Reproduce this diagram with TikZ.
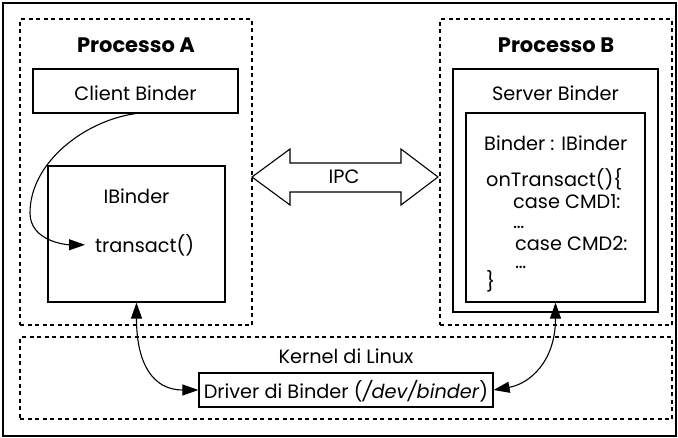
\documentclass[tikz,border=0pt]{standalone}
\usepackage{fontspec}
\setmainfont{Poppins}
\usetikzlibrary{arrows.meta,calc}

\begin{document}
\begin{tikzpicture}[x=1pt,y=-1pt,
  font=\fontsize{19.3}{22}\selectfont,
  solidbox/.style={draw, line width=1.2pt, inner sep=0pt},
  dashbox/.style={draw, line width=1.2pt, inner sep=0pt, dash pattern=on 4pt off 3.5pt},
  lbl/.style={anchor=base, inner sep=0pt},
  codeline/.style={anchor=base west, inner sep=0pt},
  tip/.style={line width=1.1pt, -{Triangle[length=16pt,width=11pt]}},
  twotip/.style={line width=1.1pt, {Triangle[length=16pt,width=11pt]}-{Triangle[length=16pt,width=11pt]}},
  title/.style={anchor=base, inner sep=0pt, font=\fontsize{21}{24}\selectfont\bfseries}]

\useasboundingbox (0,0) rectangle (678,437);

% outer frame
\draw[line width=1.3pt] (3,3) rectangle (676,436);

% process and kernel areas
\node[dashbox, minimum width=232, minimum height=306] (procA) at (136,172) {};
\node[dashbox, minimum width=232, minimum height=306] (procB) at (556,172) {};
\node[dashbox, minimum width=652, minimum height=82] (kernel) at (346,378) {};

\node[title] (titleA) at (136,52) {Processo A};
\node[title] (titleB) at (556,52) {Processo B};

% process A
\node[solidbox, minimum width=205, minimum height=44] (client) at (135.5,91) {};
\node[lbl] (clientlbl) at (135.5,100) {Client Binder};
\node[solidbox, minimum width=177, minimum height=136] (ibinder) at (136.5,234) {};
\node[lbl] (ibinderlbl) at (136.5,203) {IBinder};
\node[codeline] (transact) at (95,252) {transact()};

% process B
\node[solidbox, minimum width=205, minimum height=243] (server) at (555.5,190.5) {};
\node[lbl] (serverlbl) at (555.5,100) {Server Binder};
\node[solidbox, minimum width=179, minimum height=189] (impl) at (555.5,207.5) {};
\node[codeline] (c1) at (484,150) {Binder : IBinder};
\node[codeline] (c2) at (486,186) {onTransact()\{};
\node[codeline] (c3) at (513,208) {case CMD1:};
\node[codeline] (c4) at (513,228) {\dots};
\node[codeline] (c5) at (515,250) {case CMD2:};
\node[codeline] (c6) at (515,268) {\dots};
\node[codeline] (c7) at (486,288) {\}};

% kernel
\node[lbl] (kernellbl) at (346,363) {Kernel di Linux};
\node[solidbox, minimum width=294, minimum height=34] (driver) at (346,390) {};
\node[lbl] (driverlbl) at (346,398) {Driver di Binder (\textit{/dev/binder})};

% IPC double arrow
\draw[line width=1.1pt, line join=miter] (252,177) -- (290,149) -- (290,163) -- (401,163)
  -- (401,149) -- (438,177) -- (401,205) -- (401,192) -- (290,192) -- (290,205) -- cycle;
\node[inner sep=0pt] (ipc) at (344,177) {IPC};

% connectors
\coordinate (bend) at (30,213);
\draw[tip, shorten >=10pt] (client.south) to[out=188,in=90,looseness=0.9] (bend)
  to[out=-90,in=180] (transact.west);
\draw[twotip] (ibinder.south) .. controls +(0,62) and +(-45,0) .. (driver.west);
\draw[twotip] (impl.south) .. controls +(0,60) and +(35,-6) .. (driver.east);
\end{tikzpicture}
\end{document}
